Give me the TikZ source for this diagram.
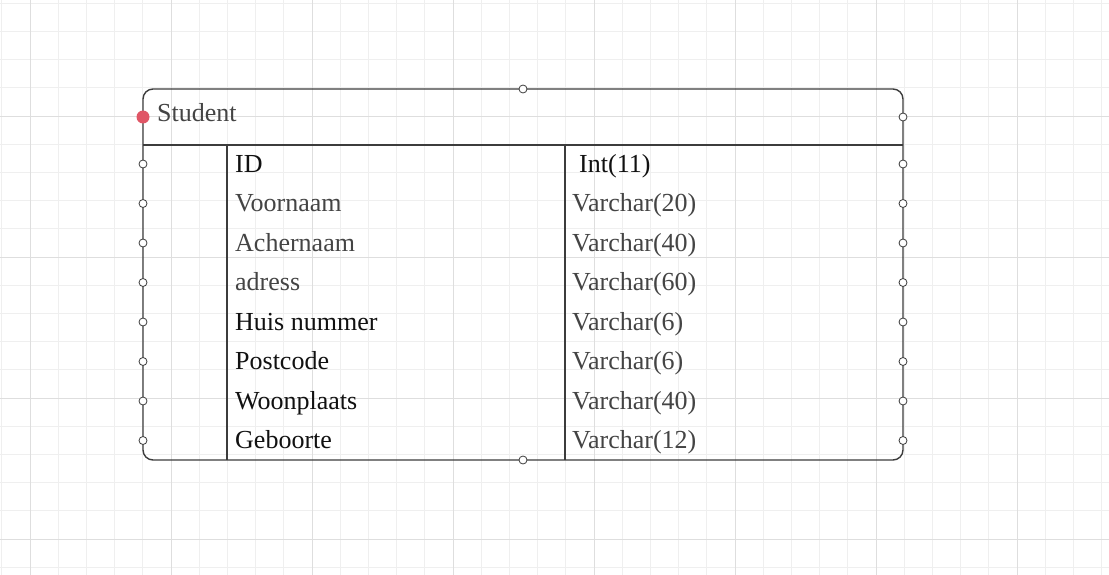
\documentclass[tikz,border=0pt]{standalone}
\usepackage{fontspec}
\setmainfont{Liberation Serif}
\definecolor{gridminor}{HTML}{EFEFEF}
\definecolor{gridmajor}{HTML}{DEDEDE}
\definecolor{edge}{HTML}{3C3C3C}
\definecolor{softtext}{HTML}{444444}
\definecolor{inktext}{HTML}{111111}
\definecolor{keydot}{HTML}{E05666}
\tikzset{
  cell/.style={anchor=base west, inner sep=0pt, font=\fontsize{26}{29}\selectfont},
  dark/.style={cell, text=inktext},
  soft/.style={cell, text=softtext},
  port/.style={circle, draw=edge, fill=white, line width=0.8pt, minimum size=8pt, inner sep=0pt},
  frame/.style={draw=edge, line width=1.4pt},
}
\begin{document}
\begin{tikzpicture}[x=1pt,y=-1pt]
  \useasboundingbox (0,0) rectangle (1109,575);
  \fill[white] (0,0) rectangle (1109,575);
  % background grid
  \foreach \k in {0,...,40} {
    \draw[gridminor, line width=0.8pt] ({30+28.2*(\k-1)},0) -- ++(0,575);
    \draw[gridminor, line width=0.8pt] (0,{116+28.2*(\k-5)}) -- ++(1109,0);
  }
  \foreach \k in {0,...,8} {
    \draw[gridmajor, line width=0.9pt] ({30+141*\k},0) -- ++(0,575);
    \draw[gridmajor, line width=0.9pt] (0,{-25+141*\k}) -- ++(1109,0);
  }
  % table outline
  \draw[frame, rounded corners=10pt] (143,89) rectangle (903,460);
  \draw[frame] (143,145) -- (903,145);
  \draw[frame] (227,145) -- (227,460);
  \draw[frame] (565,145) -- (565,460);
  % header
  \node[soft] (title) at (157,122) {Student};
  % field rows
  \node[dark] (f1) at (235,172) {ID};
  \node[soft] (f2) at (235,211.5) {Voornaam};
  \node[soft] (f3) at (235,251) {Achernaam};
  \node[soft] (f4) at (235,290.5) {adress};
  \node[dark] (f5) at (235,330) {Huis nummer};
  \node[dark] (f6) at (235,369.5) {Postcode};
  \node[dark] (f7) at (235,409) {Woonplaats};
  \node[dark] (f8) at (235,448.5) {Geboorte};
  \node[dark] (t1) at (579,172) {Int(11)};
  \node[soft] (t2) at (572,211.5) {Varchar(20)};
  \node[soft] (t3) at (572,251) {Varchar(40)};
  \node[soft] (t4) at (572,290.5) {Varchar(60)};
  \node[soft] (t5) at (572,330) {Varchar(6)};
  \node[soft] (t6) at (572,369.5) {Varchar(6)};
  \node[soft] (t7) at (572,409) {Varchar(40)};
  \node[soft] (t8) at (572,448.5) {Varchar(12)};
  % connection ports
  \node[port] (ptop) at (523,89) {};
  \node[port] (pbot) at (523,460) {};
  \node[port] (phead) at (903,117) {};
  \foreach \y [count=\i] in {164,203.5,243,282.5,322,361.5,401,440.5} {
    \node[port] (pl\i) at (143,\y) {};
    \node[port] (pr\i) at (903,\y) {};
  }
  % key marker
  \node[circle, fill=keydot, minimum size=13pt, inner sep=0pt] (key) at (143,117) {};
\end{tikzpicture}
\end{document}
